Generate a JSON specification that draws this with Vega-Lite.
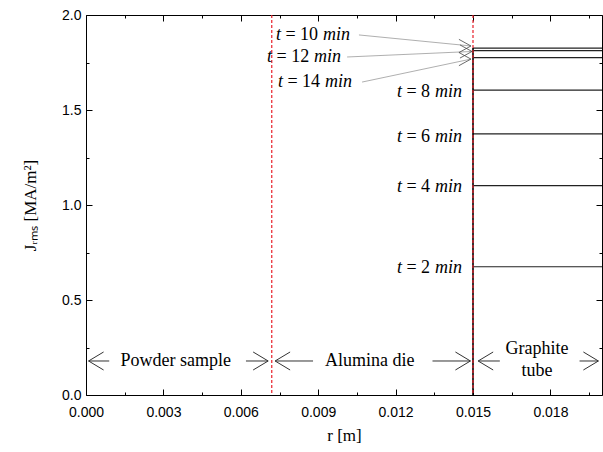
{
  "$schema": "https://vega.github.io/schema/vega-lite/v6.json",
  "width": 516,
  "height": 380,
  "autosize": {"type": "none"},
  "padding": {"left": 86, "top": 15, "right": 1, "bottom": 57},
  "background": "white",
  "config": {
    "view": {"stroke": "black", "strokeWidth": 1},
    "axis": {
      "grid": false,
      "domain": false,
      "zindex": 1,
      "tickColor": "black",
      "tickWidth": 1,
      "labelColor": "black",
      "labelFont": "Liberation Sans",
      "labelFontSize": 14,
      "labelFlush": false,
      "labelOverlap": false,
      "titleColor": "black",
      "titleFont": "Liberation Serif",
      "titleFontSize": 17,
      "titleFontWeight": "normal"
    }
  },
  "datasets": {
    "curves": [
      {"t": 2, "j": 0.675},
      {"t": 4, "j": 1.102},
      {"t": 6, "j": 1.374},
      {"t": 8, "j": 1.605},
      {"t": 10, "j": 1.826},
      {"t": 12, "j": 1.812},
      {"t": 14, "j": 1.776}
    ],
    "labels": [
      {"num": "= 2", "x": 0.01205, "y": 0.668},
      {"num": "= 4", "x": 0.01205, "y": 1.095},
      {"num": "= 6", "x": 0.01205, "y": 1.358},
      {"num": "= 8", "x": 0.01205, "y": 1.595},
      {"num": "= 10", "x": 0.00736, "y": 1.895},
      {"num": "= 12", "x": 0.00702, "y": 1.779},
      {"num": "= 14", "x": 0.00744, "y": 1.647}
    ],
    "pointers": [
      {"x": 0.01058, "y": 1.895, "x2": 0.01492, "y2": 1.837},
      {"x": 0.01012, "y": 1.779, "x2": 0.01496, "y2": 1.808},
      {"x": 0.0107, "y": 1.647, "x2": 0.01492, "y2": 1.768}
    ],
    "shafts": [
      {"x": 0.0001, "x2": 0.0009},
      {"x": 0.0062, "x2": 0.00706},
      {"x": 0.00733, "x2": 0.0088},
      {"x": 0.01343, "x2": 0.0149},
      {"x": 0.0152, "x2": 0.01604},
      {"x": 0.01913, "x2": 0.01986}
    ],
    "heads": [
      {"x": 0.0001, "dir": "left"},
      {"x": 0.00706, "dir": "right"},
      {"x": 0.00733, "dir": "left"},
      {"x": 0.0149, "dir": "right"},
      {"x": 0.0152, "dir": "left"},
      {"x": 0.01986, "dir": "right"}
    ],
    "regions": [
      {"text": "Powder sample", "x": 0.00348, "y": 0.179},
      {"text": "Alumina die", "x": 0.011, "y": 0.179},
      {"text": "Graphite", "x": 0.01748, "y": 0.242},
      {"text": "tube", "x": 0.01748, "y": 0.126}
    ],
    "jump": [
      {"r": 0.015, "j0": 0, "j1": 1.826}
    ]
  },
  "resolve": {"axis": {"x": "independent", "y": "independent"}},
  "layer": [
    {
      "data": {"name": "curves"},
      "mark": {"type": "rule", "color": "#222222", "strokeWidth": 1.2},
      "encoding": {
        "x": {
          "datum": 0.015,
          "type": "quantitative",
          "scale": {"domain": [0, 0.02], "nice": false, "zero": false},
          "axis": {
            "orient": "bottom",
            "title": "r [m]",
            "titlePadding": 8,
            "values": [0, 0.003, 0.006, 0.009, 0.012, 0.015, 0.018],
            "format": ".3f",
            "offset": -6,
            "tickSize": 6,
            "labelPadding": 10
          }
        },
        "x2": {"datum": 0.02},
        "y": {
          "field": "j",
          "type": "quantitative",
          "scale": {"domain": [0, 2], "nice": false, "zero": false},
          "axis": {
            "orient": "left",
            "title": "Jᵣₘₛ [MA/m²]",
            "titlePadding": 22,
            "values": [0, 0.5, 1, 1.5, 2],
            "format": ".1f",
            "offset": -6,
            "tickSize": 6,
            "labelPadding": 5
          }
        }
      }
    },
    {
      "data": {"name": "curves"},
      "mark": {"type": "point", "opacity": 0},
      "encoding": {
        "x": {
          "datum": 0.015,
          "type": "quantitative",
          "axis": {"orient": "top", "title": null, "labels": false, "values": [0, 0.003, 0.006, 0.009, 0.012, 0.015, 0.018], "offset": -6, "tickSize": 6}
        },
        "y": {
          "field": "j",
          "type": "quantitative",
          "axis": {"orient": "right", "title": null, "labels": false, "values": [0, 0.5, 1, 1.5, 2], "offset": -6, "tickSize": 6}
        }
      }
    },
    {
      "data": {"name": "curves"},
      "mark": {"type": "point", "opacity": 0},
      "encoding": {
        "x": {
          "datum": 0.015,
          "type": "quantitative",
          "axis": {"orient": "bottom", "title": null, "labels": false, "values": [0.0015, 0.0045, 0.0075, 0.0105, 0.0135, 0.0165, 0.0195], "offset": -3, "tickSize": 3}
        },
        "y": {
          "field": "j",
          "type": "quantitative",
          "axis": {"orient": "left", "title": null, "labels": false, "values": [0.25, 0.75, 1.25, 1.75], "offset": -3, "tickSize": 3}
        }
      }
    },
    {
      "data": {"name": "curves"},
      "mark": {"type": "point", "opacity": 0},
      "encoding": {
        "x": {
          "datum": 0.015,
          "type": "quantitative",
          "axis": {"orient": "top", "title": null, "labels": false, "values": [0.0015, 0.0045, 0.0075, 0.0105, 0.0135, 0.0165, 0.0195], "offset": -3, "tickSize": 3}
        },
        "y": {
          "field": "j",
          "type": "quantitative",
          "axis": {"orient": "right", "title": null, "labels": false, "values": [0.25, 0.75, 1.25, 1.75], "offset": -3, "tickSize": 3}
        }
      }
    },
    {
      "data": {"name": "jump"},
      "mark": {"type": "rule", "color": "black", "strokeWidth": 1.6},
      "encoding": {
        "x": {"field": "r", "type": "quantitative", "axis": null},
        "y": {"field": "j0", "type": "quantitative", "axis": null},
        "y2": {"field": "j1"}
      }
    },
    {
      "data": {"values": [{"r": 0.0072}, {"r": 0.015}]},
      "mark": {"type": "rule", "color": "#e8202a", "strokeWidth": 1.2, "strokeDash": [3, 2]},
      "encoding": {
        "x": {"field": "r", "type": "quantitative", "axis": null}
      }
    },
    {
      "data": {"name": "pointers"},
      "mark": {"type": "rule", "color": "#9a9a9a", "strokeWidth": 0.8},
      "encoding": {
        "x": {"field": "x", "type": "quantitative", "axis": null},
        "y": {"field": "y", "type": "quantitative", "axis": null},
        "x2": {"field": "x2"},
        "y2": {"field": "y2"}
      }
    },
    {
      "data": {"name": "pointers"},
      "mark": {"type": "point", "filled": false, "color": "#444444", "strokeWidth": 0.8, "opacity": 1, "size": 576, "shape": "M-1,-0.55L0,0L-1,0.55"},
      "encoding": {
        "x": {"field": "x2", "type": "quantitative", "axis": null},
        "y": {"field": "y2", "type": "quantitative", "axis": null}
      }
    },
    {
      "data": {"name": "shafts"},
      "mark": {"type": "rule", "color": "#333333", "strokeWidth": 1},
      "encoding": {
        "x": {"field": "x", "type": "quantitative", "axis": null},
        "x2": {"field": "x2"},
        "y": {"datum": 0.179, "type": "quantitative", "axis": null}
      }
    },
    {
      "data": {"name": "heads"},
      "mark": {"type": "point", "filled": false, "color": "#333333", "strokeWidth": 1, "opacity": 1, "size": 900},
      "encoding": {
        "x": {"field": "x", "type": "quantitative", "axis": null},
        "y": {"datum": 0.179, "type": "quantitative", "axis": null},
        "shape": {"field": "dir", "type": "nominal", "scale": {"domain": ["left", "right"], "range": ["M1,-0.6L0,0L1,0.6", "M-1,-0.6L0,0L-1,0.6"]}, "legend": null}
      }
    },
    {
      "data": {"name": "regions"},
      "mark": {"type": "text", "font": "Liberation Serif", "fontSize": 18, "color": "black", "align": "center", "baseline": "middle"},
      "encoding": {
        "x": {"field": "x", "type": "quantitative", "axis": null},
        "y": {"field": "y", "type": "quantitative", "axis": null},
        "text": {"field": "text"}
      }
    },
    {
      "data": {"name": "labels"},
      "mark": {"type": "text", "font": "Liberation Serif", "fontSize": 18, "fontStyle": "italic", "color": "black", "align": "left", "baseline": "middle"},
      "encoding": {
        "x": {"field": "x", "type": "quantitative", "axis": null},
        "y": {"field": "y", "type": "quantitative", "axis": null},
        "text": {"value": "t"}
      }
    },
    {
      "data": {"name": "labels"},
      "mark": {"type": "text", "font": "Liberation Serif", "fontSize": 18, "color": "black", "align": "left", "baseline": "middle", "dx": 9.5},
      "encoding": {
        "x": {"field": "x", "type": "quantitative", "axis": null},
        "y": {"field": "y", "type": "quantitative", "axis": null},
        "text": {"field": "num"}
      }
    },
    {
      "data": {"name": "labels"},
      "transform": [{"filter": "length(datum.num) == 3"}],
      "mark": {"type": "text", "font": "Liberation Serif", "fontSize": 18, "fontStyle": "italic", "color": "black", "align": "left", "baseline": "middle", "dx": 38},
      "encoding": {
        "x": {"field": "x", "type": "quantitative", "axis": null},
        "y": {"field": "y", "type": "quantitative", "axis": null},
        "text": {"value": "min"}
      }
    },
    {
      "data": {"name": "labels"},
      "transform": [{"filter": "length(datum.num) == 4"}],
      "mark": {"type": "text", "font": "Liberation Serif", "fontSize": 18, "fontStyle": "italic", "color": "black", "align": "left", "baseline": "middle", "dx": 47},
      "encoding": {
        "x": {"field": "x", "type": "quantitative", "axis": null},
        "y": {"field": "y", "type": "quantitative", "axis": null},
        "text": {"value": "min"}
      }
    }
  ]
}
